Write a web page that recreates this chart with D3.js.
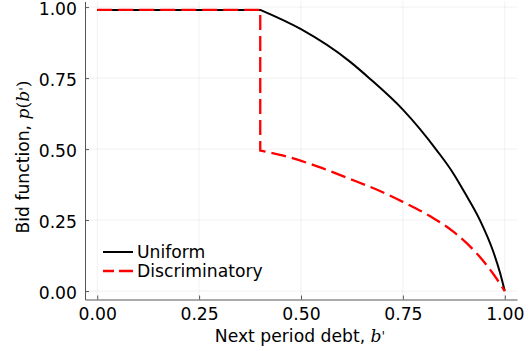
<!DOCTYPE html>
<html><head><meta charset="utf-8">
<script src="https://cdn.jsdelivr.net/npm/d3@7"></script>
<style>body{margin:0;background:#fff}svg{display:block}</style>
</head><body>
<script>
// Data
const xTicks = [0, 0.25, 0.5, 0.75, 1.0];
const yTicks = [0, 0.25, 0.5, 0.75, 1.0];
const uniformB = [0, 0.4, 0.5, 0.62, 0.669, 0.75, 0.834, 0.873, 0.902, 0.939, 0.971, 0.988, 1.0];
const uniformP = [0.99, 0.99, 0.922, 0.808, 0.748, 0.639, 0.494, 0.416, 0.346, 0.25, 0.142, 0.066, 0.0];
const discB = [0, 0.4, 0.4, 0.457, 0.538, 0.62, 0.702, 0.75, 0.816, 0.873, 0.939, 0.971, 1.0];
const discP = [0.99, 0.99, 0.495, 0.477, 0.44, 0.395, 0.347, 0.314, 0.264, 0.21, 0.12, 0.062, 0.0];
const seriesNames = ["Uniform", "Discriminatory"];

const W = 529, H = 351;
const svg = d3.select("body").append("svg").attr("width", W).attr("height", H);
const font = "DejaVu Sans";
const fs = 17.2;

const x = d3.scaleLinear().domain([-0.03, 1.03]).range([85, 517]);
const y = d3.scaleLinear().domain([-0.0297, 1.0197]).range([299.5, 1.5]);

// grid
svg.append("g").selectAll("line").data(xTicks).join("line")
  .attr("x1", d => x(d)).attr("x2", d => x(d)).attr("y1", y.range()[0]).attr("y2", y.range()[1])
  .attr("stroke", "#000").attr("stroke-opacity", 0.07).attr("stroke-width", 0.8);
svg.append("g").selectAll("line").data(yTicks).join("line")
  .attr("y1", d => y(d)).attr("y2", d => y(d)).attr("x1", x.range()[0]).attr("x2", x.range()[1])
  .attr("stroke", "#000").attr("stroke-opacity", 0.07).attr("stroke-width", 0.8);

// axes
const xAxis = d3.axisBottom(x).tickValues(xTicks).tickFormat(d3.format(".2f")).tickSizeInner(-4).tickSizeOuter(0).tickPadding(8);
const yAxis = d3.axisLeft(y).tickValues(yTicks).tickFormat(d3.format(".2f")).tickSizeInner(-4).tickSizeOuter(0).tickPadding(8);
const gx = svg.append("g").attr("transform", `translate(0,${y.range()[0]})`).call(xAxis);
const gy = svg.append("g").attr("transform", `translate(${x.range()[0]},0)`).call(yAxis);
[gx, gy].forEach(g => {
  g.select(".domain").attr("stroke", "#555").attr("stroke-width", 1);
  g.selectAll(".tick line").attr("stroke", "#555").attr("stroke-width", 1);
  g.selectAll(".tick text").attr("font-family", font).attr("font-size", fs).attr("fill", "#000");
});
gy.selectAll(".tick text").attr("dy", "0.43em");

// lines: linear plateau, then smooth monotone curve
const curve = d3.line().x(d => x(d[0])).y(d => y(d[1])).curve(d3.curveMonotoneX);
function pathFor(data, breakIdx) {
  let s = "M" + x(data[0][0]) + "," + y(data[0][1]);
  for (let i = 1; i < breakIdx; i++) s += "L" + x(data[i][0]) + "," + y(data[i][1]);
  return s + curve(data.slice(breakIdx)).replace(/^M/, "L");
}
const uData = uniformB.map((b, i) => [b, uniformP[i]]);
const dData = discB.map((b, i) => [b, discP[i]]);
svg.append("path").attr("d", pathFor(uData, 1))
  .attr("fill", "none").attr("stroke", "#000").attr("stroke-width", 2);
svg.append("path").attr("d", pathFor(dData, 2))
  .attr("fill", "none").attr("stroke", "#ff0000").attr("stroke-width", 2.3).attr("stroke-dasharray", "15,6");

// legend
const leg = svg.append("g");
leg.append("line").attr("x1", 103).attr("x2", 133).attr("y1", 252).attr("y2", 252).attr("stroke", "#000").attr("stroke-width", 2);
leg.append("line").attr("x1", 103).attr("x2", 133).attr("y1", 271).attr("y2", 271).attr("stroke", "#ff0000").attr("stroke-width", 2.3).attr("stroke-dasharray", "11,5,14,100");
leg.append("text").attr("x", 137).attr("y", 258).attr("font-family", font).attr("font-size", fs).text(seriesNames[0]);
leg.append("text").attr("x", 137).attr("y", 277).attr("font-family", font).attr("font-size", fs).text(seriesNames[1]);

// axis labels
const xl = svg.append("text").attr("x", 300).attr("y", 342).attr("text-anchor", "middle").attr("font-family", font).attr("font-size", fs);
xl.append("tspan").text("Next period debt, ");
xl.append("tspan").attr("font-family", "DejaVu Serif").attr("font-style", "italic").text("b");
xl.append("tspan").attr("font-family", "DejaVu Serif").attr("font-size", 13).attr("dy", -1).text("'");

const yl = svg.append("text").attr("transform", "translate(29,157) rotate(-90)").attr("text-anchor", "middle").attr("font-family", font).attr("font-size", fs);
yl.append("tspan").text("Bid function, ");
yl.append("tspan").attr("font-family", "DejaVu Serif").attr("font-style", "italic").text("p");
yl.append("tspan").attr("font-family", "DejaVu Serif").text("(");
yl.append("tspan").attr("font-family", "DejaVu Serif").attr("font-style", "italic").text("b");
yl.append("tspan").attr("font-family", "DejaVu Serif").attr("font-size", 13).text("'");
yl.append("tspan").attr("font-family", "DejaVu Serif").text(")");
</script>
</body></html>
